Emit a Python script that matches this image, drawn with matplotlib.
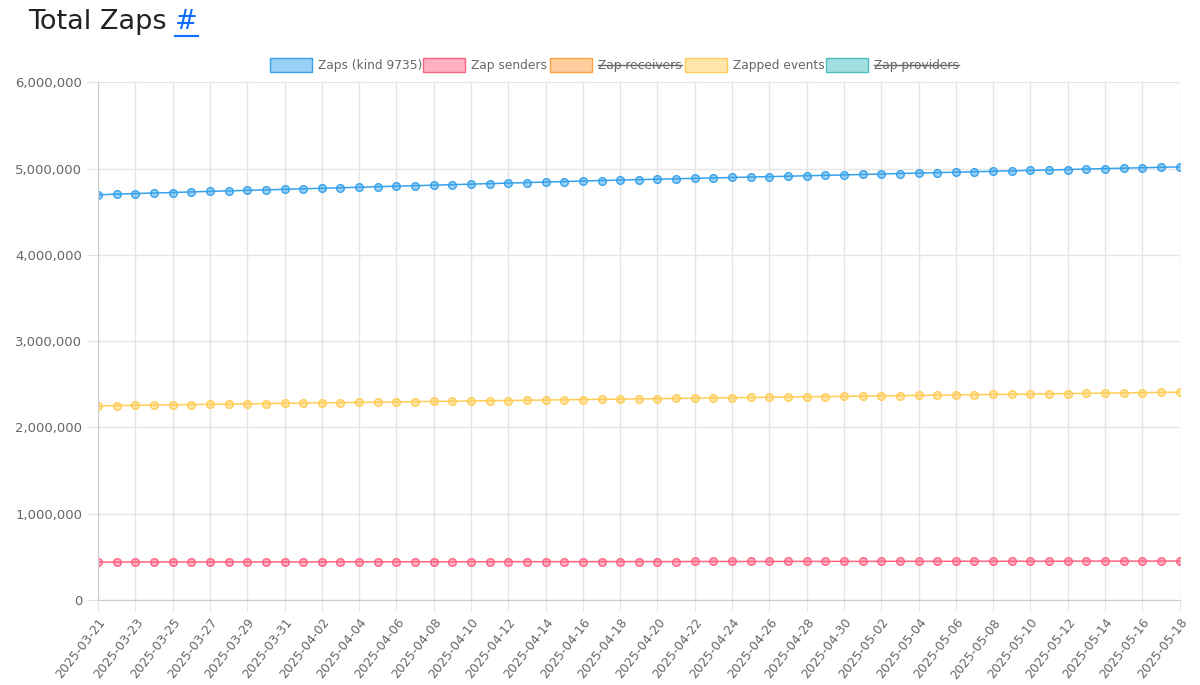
import matplotlib
matplotlib.use("Agg")
import matplotlib.pyplot as plt
import numpy as np
import datetime as dt
from matplotlib.patches import Rectangle
from matplotlib.lines import Line2D

start = dt.date(2025, 3, 21)
dates = [start + dt.timedelta(days=i) for i in range(59)]
labels = [d.isoformat() for d in dates]

zaps = [4695000,4703000,4710000,4716000,4722000,4729000,4735000,4741000,4747000,4753000,
        4759000,4765000,4771000,4777000,4783000,4789000,4795000,4801000,4807000,4813000,
        4819000,4825000,4831000,4837000,4843000,4849000,4855000,4861000,4866000,4871000,
        4876000,4881000,4886000,4891000,4896000,4901000,4906000,4911000,4916000,4921000,
        4926000,4931000,4937000,4942000,4947000,4952000,4957000,4962000,4968000,4973000,
        4978000,4983000,4988000,4994000,4999000,5004000,5009000,5014000,5019000]
zapped_events_k = [2250,2253,2256,2259,2262,2265,2268,2271,2273,2276,
                   2279,2282,2285,2287,2290,2293,2296,2299,2301,2304,
                   2307,2310,2312,2315,2318,2320,2323,2326,2328,2331,
                   2334,2336,2339,2342,2344,2347,2350,2352,2355,2358,
                   2360,2363,2366,2368,2371,2374,2376,2379,2382,2384,
                   2387,2390,2392,2395,2398,2400,2403,2406,2409]
zapped_events = [v * 1000 for v in zapped_events_k]
senders_k = [440,440,441,441,441,441,441,442,442,442,
             442,442,443,443,443,443,443,444,444,444,
             444,444,445,445,445,445,445,446,446,446,
             446,446,447,447,447,447,447,448,448,448,
             448,448,449,449,449,449,449,450,450,450,
             450,450,451,451,451,451,451,452,452]
senders = [v * 1000 for v in senders_k]

legend_names = ["Zaps (kind 9735)", "Zap senders", "Zap receivers", "Zapped events", "Zap providers"]
hidden = [False, False, True, False, True]
colors = [(54/255,162/255,235/255),(255/255,99/255,132/255),(255/255,159/255,64/255),
          (255/255,205/255,86/255),(75/255,192/255,192/255)]

fig = plt.figure(figsize=(12, 6.85), dpi=100)
ax = fig.add_axes([0.0817, 0.124, 0.9013, 0.756])
x = np.arange(len(dates))
for vals, c in [(zaps, colors[0]), (senders, colors[1]), (zapped_events, colors[3])]:
    ax.plot(x, vals, color=c, lw=1.1, marker='o', ms=5.5,
            markerfacecolor=(*c, 0.5), markeredgecolor=c, markeredgewidth=1)

ax.set_xlim(0, len(dates)-1)
ax.set_ylim(0, 6000000)
ax.set_yticks(range(0, 6000001, 1000000))
ax.set_yticklabels([f"{v:,}" for v in range(0, 6000001, 1000000)])
ax.set_xticks(x[::2])
ax.set_xticklabels(labels[::2], rotation=52, ha='right', rotation_mode='anchor')
ax.tick_params(colors='#666666', labelsize=9, length=8, color='#e5e5e5')
ax.tick_params(axis='y', labelsize=9.5)
ax.grid(True, color='#e5e5e5', lw=1)
ax.spines['top'].set_visible(False)
ax.spines['right'].set_visible(False)
ax.spines['left'].set_color('#cccccc'); ax.spines['bottom'].set_color('#cccccc')

t = fig.text(28/1200, 1-22/685, "Total Zaps ", fontsize=19.5, va='center', color='#222222')
fig.canvas.draw()
r = fig.canvas.get_renderer()
bb = t.get_window_extent(r)
h = fig.text(bb.x1/1200, 1-22/685, "#", fontsize=19.5, va='center', color='#0d6efd')
bh = h.get_window_extent(r)
fig.add_artist(Line2D([bh.x0/1200, bh.x1/1200], [(bh.y0-1)/685]*2, color='#0d6efd', lw=1.5))

boxes = [270, 423, 550, 685, 826]
for bx, name, hid, c in zip(boxes, legend_names, hidden, colors):
    fig.add_artist(Rectangle((bx/1200, 1-72/685), 42/1200, 14/685, facecolor=(*c, 0.5),
                             edgecolor=c, lw=1, transform=fig.transFigure))
    tt = fig.text((bx+48)/1200, 1-65/685, name, fontsize=8.8, va='center', color='#666666')
    if hid:
        e = tt.get_window_extent(r)
        ym = (e.y0 + e.y1) / 2
        fig.add_artist(Line2D([e.x0/1200, e.x1/1200], [ym/685]*2, color='#666666', lw=1))

fig.savefig("out.png", dpi=100)
